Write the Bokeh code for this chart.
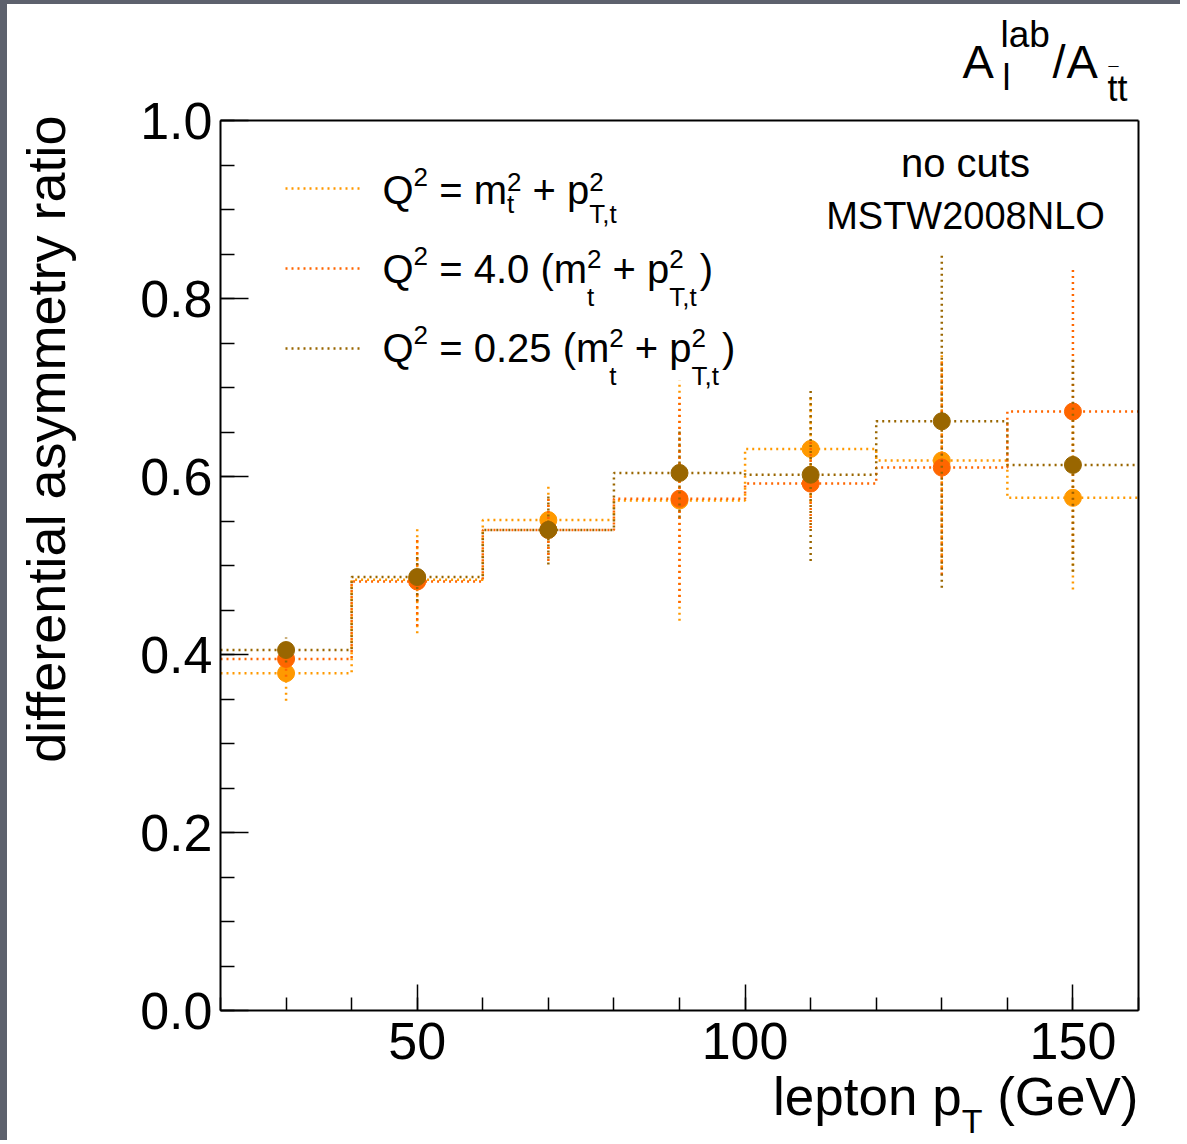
import math
from bokeh.plotting import figure
from bokeh.models import (Label, FixedTicker, Range1d, Legend, LegendItem,
                          ColumnDataSource, LinearAxis)
from bokeh.embed import file_html
from bokeh.resources import INLINE

# ---------------- data ----------------
bin_edges = [20, 40, 60, 80, 100, 120, 140, 160]
bin_centers = [30, 50, 70, 90, 110, 130, 150]

ratio_nominal = [0.379, 0.484, 0.551, 0.573, 0.631, 0.618, 0.576]
err_nominal = [0.031, 0.060, 0.039, 0.135, 0.060, 0.120, 0.103]
ratio_scale4 = [0.395, 0.482, 0.540, 0.575, 0.592, 0.610, 0.673]
err_scale4 = [0.020, 0.050, 0.035, 0.117, 0.050, 0.120, 0.160]
ratio_scale025 = [0.405, 0.487, 0.540, 0.604, 0.602, 0.662, 0.613]
err_scale025 = [0.014, 0.027, 0.039, 0.050, 0.097, 0.187, 0.120]

series_colors = ["#ff9900", "#ff6600", "#996600"]

y_major_ticks = [0.0, 0.2, 0.4, 0.6, 0.8, 1.0]
y_minor_ticks = [0.0, 0.05, 0.1, 0.15, 0.2, 0.25, 0.3, 0.35, 0.4, 0.45, 0.5,
                 0.55, 0.6, 0.65, 0.7, 0.75, 0.8, 0.85, 0.9, 0.95, 1.0]
x_major_ticks = [50, 100, 150]
x_minor_ticks = [20, 30, 40, 50, 60, 70, 80, 90, 100, 110, 120, 130, 140, 150, 160]
x_limits = (20, 160)
y_limits = (0.0, 1.0)

FONT = "Liberation Sans"

# ---------------- layout (page pixels) ----------------
W, H = 1180, 1140
PAGE_L, PAGE_T = 7, 4                 # grey strip on the left / top
PAGE_R, PAGE_B = PAGE_L + W, PAGE_T + H
FRAME_L, FRAME_T, FRAME_R, FRAME_B = 220, 120, 1138, 1010

kx = (FRAME_R - FRAME_L) / (x_limits[1] - x_limits[0])
ky = (FRAME_B - FRAME_T) / (y_limits[1] - y_limits[0])
x_range = Range1d(x_limits[0] - (FRAME_L - PAGE_L) / kx, x_limits[1] + (PAGE_R - FRAME_R) / kx)
y_range = Range1d(y_limits[0] - (PAGE_B - FRAME_B) / ky, y_limits[1] + (FRAME_T - PAGE_T) / ky)

p = figure(width=W, height=H, output_backend="svg", toolbar_location=None,
           title=None, x_range=x_range, y_range=y_range,
           min_border=0, min_border_left=0, min_border_right=0,
           min_border_top=0, min_border_bottom=0)
p.styles = {"border-left": f"{PAGE_L}px solid #5d616d", "border-top": f"{PAGE_T}px solid #5d616d"}
p.xgrid.visible = False
p.ygrid.visible = False
p.background_fill_color = "white"
p.border_fill_color = "white"
p.outline_line_color = None

for ax in (p.xaxis[0], p.yaxis[0]):
    ax.axis_line_width = 2
    ax.axis_line_color = "black"
    ax.major_tick_line_color = "black"
    ax.minor_tick_line_color = "black"
    ax.major_tick_line_width = 1.5
    ax.minor_tick_line_width = 1.5
    ax.major_tick_out = 0
    ax.minor_tick_out = 0
    ax.major_label_text_font = FONT
    ax.major_label_text_font_size = "52px"
    ax.major_label_text_color = "black"

p.yaxis[0].fixed_location = x_limits[0]
p.yaxis[0].bounds = y_limits
p.yaxis[0].ticker = FixedTicker(ticks=y_major_ticks, minor_ticks=y_minor_ticks)
p.yaxis[0].major_tick_in = 28
p.yaxis[0].minor_tick_in = 14
p.yaxis[0].major_label_standoff = 8
p.yaxis[0].major_label_overrides = {t: f"{t:.1f}" for t in y_major_ticks}

p.xaxis[0].fixed_location = y_limits[0]
p.xaxis[0].bounds = x_limits
p.xaxis[0].ticker = FixedTicker(ticks=x_major_ticks, minor_ticks=x_minor_ticks)
p.xaxis[0].major_tick_in = 26
p.xaxis[0].minor_tick_in = 13
p.xaxis[0].major_label_standoff = 12

# frame lines on the top and right (plain axes without ticks)
for side, loc, bnds in (("right", x_limits[1], y_limits), ("above", y_limits[1], x_limits)):
    a = LinearAxis(fixed_location=loc, bounds=bnds, ticker=FixedTicker(ticks=[]),
                   axis_line_width=2, axis_line_color="black",
                   major_tick_in=0, major_tick_out=0, minor_tick_in=0, minor_tick_out=0)
    p.add_layout(a, side)

# ---------------- series ----------------
series = [(ratio_nominal, err_nominal), (ratio_scale4, err_scale4), (ratio_scale025, err_scale025)]
legend_renderers = []
for (vals, errs), col in zip(series, series_colors):
    xs, ys = [], []
    for i, v in enumerate(vals):
        xs += [bin_edges[i], bin_edges[i + 1]]
        ys += [v, v]
    r = p.line(xs, ys, line_color=col, line_width=2.5, line_dash="2 4")
    legend_renderers.append(r)
    src = ColumnDataSource(dict(x=bin_centers, y=vals,
                                lo=[v - e for v, e in zip(vals, errs)],
                                hi=[v + e for v, e in zip(vals, errs)]))
    p.segment(x0="x", x1="x", y0="lo", y1="hi", source=src, line_color=col,
              line_width=2.5, line_dash="2 4")
    p.scatter(x="x", y="y", source=src, size=17, fill_color=col, line_color=col)

legend = Legend(items=[LegendItem(label=" ", renderers=[r]) for r in legend_renderers],
                location=(285 - PAGE_L, PAGE_B - 388), glyph_width=77, glyph_height=80,
                label_height=80, label_width=1, spacing=0, padding=0, margin=0,
                label_standoff=0, border_line_alpha=0, background_fill_alpha=0,
                label_text_font_size="10px")
p.add_layout(legend)

# ---------------- text helpers ----------------
CW = {' ': 278, '(': 333, ')': 333, '+': 584, ',': 278, '.': 278, '/': 278, '=': 584,
      '-': 333, 'A': 667, 'G': 778, 'Q': 778, 'T': 611, 'V': 667, 'N': 722, 'L': 556,
      'O': 778, 'S': 667, 'M': 833, 'W': 944, 'a': 556, 'b': 556, 'e': 556, 'l': 222,
      'm': 833, 'n': 556, 'o': 556, 'p': 556, 't': 278, 'c': 500, 'u': 556, 's': 500,
      'i': 222, 'r': 333, 'f': 278, 'y': 500, 'h': 556}
BASE_CORR = 0.3   # empirical offset of the alphabetic baseline, in em


def tw(s, size):
    return sum(CW.get(c, 556) for c in s) / 1000.0 * size


def put(xc, yc, text, size, align="left", angle=0.0):
    lead = len(text) - len(text.lstrip(" "))
    if align == "left" and lead:
        xc += tw(" " * lead, size)
    text = text.strip(" ")
    if angle:
        xc -= BASE_CORR * size
    else:
        yc -= BASE_CORR * size
    p.add_layout(Label(x=xc - PAGE_L, y=PAGE_B - yc, x_units="screen", y_units="screen",
                       text=text, text_font=FONT, text_font_size=f"{size}px",
                       text_baseline="alphabetic", text_align=align, angle=angle,
                       text_color="black"))


def item_width(it):
    if isinstance(it, list):
        return max(tw(t, s) for t, s, _ in it)
    t, s, _ = it
    return tw(t, s)


def run(x0, base, items, align="left"):
    total = sum(item_width(it) for it in items)
    x = x0 - total if align == "right" else x0
    for it in items:
        parts = it if isinstance(it, list) else [it]
        for t, s, dy in parts:
            put(x, base - dy, t, s)
        x += item_width(it)


# legend texts
M, S = 40, 26
run(382, 201, [("Q", M, 0), ("2", S, 17), (" = m", M, 0), [("2", S, 12), ("t", S, -10)],
               (" + p", M, 0), [("2", S, 12), ("T,t", S, -20)]])
run(382, 280, [("Q", M, 0), ("2", S, 17), (" = 4.0 (m", M, 0), [("2", S, 14), ("t", S, -24)],
               (" + p", M, 0), [("2", S, 14), ("T,t", S, -24)], (")", M, 0)])
run(382, 359, [("Q", M, 0), ("2", S, 17), (" = 0.25 (m", M, 0), [("2", S, 14), ("t", S, -24)],
               (" + p", M, 0), [("2", S, 14), ("T,t", S, -24)], (")", M, 0)])

# info texts
put(965, 174, "no cuts", 40, align="center")
put(965, 227, "MSTW2008NLO", 38, align="center")

# title A_l^lab / A_ttbar
put(962, 75, "A", 47)
put(1000, 45, "lab", 37)
put(1002, 88, "l", 36)
put(1052, 75, "/", 47)
put(1066, 75, "A", 47)
put(1107, 99, "tt", 36)
put(1108, 79, "\u00af", 18)

# x axis title
run(FRAME_R, 1112, [("lepton p", 53, 0), ("T", 34, -19), (" (GeV)", 53, 0)], align="right")

# y axis title
put(62, 115, "differential asymmetry ratio", 54, align="right", angle=math.pi / 2)

open("out.html", "w").write(file_html(p, INLINE))
